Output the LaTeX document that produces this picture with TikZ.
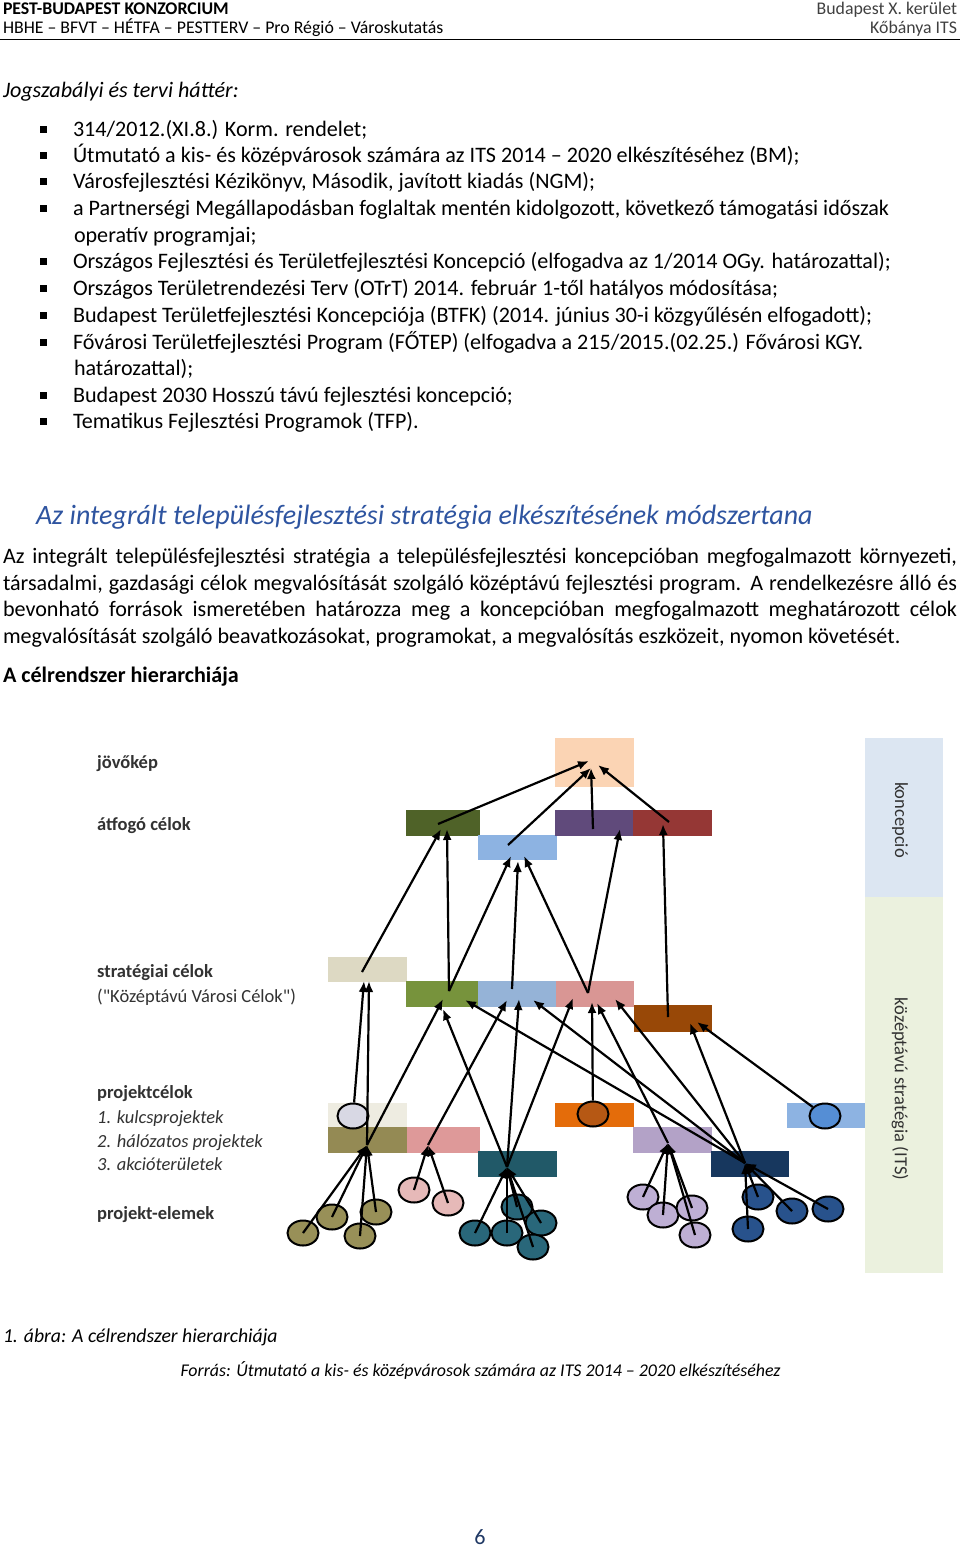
\documentclass[tikz,border=0pt]{standalone}
\usepackage{fontspec}
\setmainfont{Carlito}
\newfontfamily\plainq{Carlito}
\usetikzlibrary{arrows.meta,shapes.geometric}
\definecolor{cJov}{RGB}{251,212,180}
\definecolor{cAgA}{RGB}{79,98,40}
\definecolor{cAgB}{RGB}{141,179,226}
\definecolor{cAgC}{RGB}{96,74,123}
\definecolor{cAgD}{RGB}{149,55,53}
\definecolor{cScA}{RGB}{221,217,195}
\definecolor{cScB}{RGB}{119,147,60}
\definecolor{cScC}{RGB}{149,179,215}
\definecolor{cScD}{RGB}{217,150,148}
\definecolor{cScE}{RGB}{152,72,7}
\definecolor{cPcA}{RGB}{238,236,225}
\definecolor{cPcB}{RGB}{148,138,84}
\definecolor{cPcC}{RGB}{222,153,153}
\definecolor{cPcD}{RGB}{33,89,104}
\definecolor{cPcE}{RGB}{228,108,10}
\definecolor{cPcF}{RGB}{179,162,199}
\definecolor{cPcG}{RGB}{23,55,94}
\definecolor{cPcH}{RGB}{141,179,226}
\definecolor{cBandA}{RGB}{220,230,242}
\definecolor{cBandB}{RGB}{235,241,222}
\definecolor{eGrey}{RGB}{216,216,228}
\definecolor{eOlive}{RGB}{152,144,88}
\definecolor{ePink}{RGB}{230,185,184}
\definecolor{eTeal}{RGB}{41,103,122}
\definecolor{eLav}{RGB}{190,175,212}
\definecolor{eNavy}{RGB}{40,82,140}
\definecolor{eOr}{RGB}{182,88,20}
\definecolor{eLb}{RGB}{85,142,213}
\definecolor{headBlue}{RGB}{46,84,160}
\definecolor{pageBlue}{RGB}{31,56,100}
\definecolor{lblGrey}{RGB}{50,50,50}
\newcommand{\fshdr}{\fontsize{17.8}{21}\selectfont}
\newcommand{\fsbody}{\fontsize{22.1}{26}\selectfont}
\newcommand{\fshead}{\fontsize{28}{33}\selectfont}
\newcommand{\fscap}{\fontsize{19.7}{24}\selectfont}
\newcommand{\fssrc}{\fontsize{17.9}{21}\selectfont}
\newcommand{\fslbl}{\fontsize{18.5}{22}\selectfont}
\begin{document}
\begin{tikzpicture}[x=1pt,y=-1pt,
  txt/.style={anchor=base west,inner sep=0pt,outer sep=0pt},
  txtr/.style={anchor=base east,inner sep=0pt,outer sep=0pt},
  bul/.style={fill=black,inner sep=0pt,minimum size=6.5pt},
  blk/.style={inner sep=0pt,outer sep=0pt,draw=none},
  lbl/.style={anchor=base west,inner sep=0pt,text=lblGrey,font=\fslbl},
  elem/.style={ellipse,draw=black,line width=2pt,minimum width=31pt,minimum height=25pt,inner sep=0pt},
  conn/.style={line width=2.2pt,draw=black,-{Latex[length=11pt,width=9pt]}}]
\useasboundingbox (0,0) rectangle (960,1551);
\fill[white] (0,0) rectangle (960,1551);

% header
\node[txt,font=\fshdr\bfseries] (h1) at (3,14) {PEST-BUDAPEST KONZORCIUM};
\node[txt,font=\fshdr] (h2) at (3,33) {HBHE – BFVT – HÉTFA – PESTTERV – Pro Régió – Városkutatás};
\node[txtr,font=\fshdr,text=black!75] (h3) at (957,14) {Budapest X. kerület};
\node[txtr,font=\fshdr,text=black!75] (h4) at (957,33) {Kőbánya ITS};
\draw[line width=1pt] (0,39.5) -- (960,39.5);

% legal background
\node[txt,font=\fsbody\itshape] (jog) at (3,97) {Jogszabályi és tervi háttér:};
\foreach \y/\n in {136/1,162/2,188/3,215/4,268/5,295/6,322/7,349/8,402/9,428/10}
  \node[bul] (bu\n) at (43.5,\y-6.5) {};
\node[txt,font=\fsbody] (l1) at (73,136) {314/2012.(XI.8.) Korm. rendelet;};
\node[txt,font=\fsbody] (l2) at (73,162) {Útmutató a kis- és középvárosok számára az ITS 2014 – 2020 elkészítéséhez (BM);};
\node[txt,font=\fsbody] (l3) at (73,188) {Városfejlesztési Kézikönyv, Második, javított kiadás (NGM);};
\node[txt,font=\fsbody] (l4) at (73,215) {a Partnerségi Megállapodásban foglaltak mentén kidolgozott, következő támogatási időszak};
\node[txt,font=\fsbody] (l4b) at (74,242) {operatív programjai;};
\node[txt,font=\fsbody] (l5) at (73,268) {Országos Fejlesztési és Területfejlesztési Koncepció (elfogadva az 1/2014 OGy. határozattal);};
\node[txt,font=\fsbody] (l6) at (73,295) {Országos Területrendezési Terv (OTrT) 2014. február 1-től hatályos módosítása;};
\node[txt,font=\fsbody] (l7) at (73,322) {Budapest Területfejlesztési Koncepciója (BTFK) (2014. június 30-i közgyűlésén elfogadott);};
\node[txt,font=\fsbody] (l8) at (73,349) {Fővárosi Területfejlesztési Program (FŐTEP) (elfogadva a 215/2015.(02.25.) Fővárosi KGY.};
\node[txt,font=\fsbody] (l8b) at (74,375) {határozattal);};
\node[txt,font=\fsbody] (l9) at (73,402) {Budapest 2030 Hosszú távú fejlesztési koncepció;};
\node[txt,font=\fsbody] (l10) at (73,428) {Tematikus Fejlesztési Programok (TFP).};

% heading and paragraph
\node[txt,font=\fshead\itshape,text=headBlue] (head) at (36,524) {Az integrált településfejlesztési stratégia elkészítésének módszertana};
\node[txt,font=\fsbody] (p1) at (3,563) {\makebox[954pt][s]{Az integrált településfejlesztési stratégia a településfejlesztési koncepcióban megfogalmazott környezeti,}};
\node[txt,font=\fsbody] (p2) at (3,590) {\makebox[954pt][s]{társadalmi, gazdasági célok megvalósítását szolgáló középtávú fejlesztési program. A rendelkezésre álló és}};
\node[txt,font=\fsbody] (p3) at (3,616) {\makebox[954pt][s]{bevonható források ismeretében határozza meg a koncepcióban megfogalmazott meghatározott célok}};
\node[txt,font=\fsbody] (p4) at (3,643) {megvalósítását szolgáló beavatkozásokat, programokat, a megvalósítás eszközeit, nyomon követését.};
\node[txt,font=\fsbody\bfseries] (sub) at (3,682) {A célrendszer hierarchiája};

% diagram: side bands
\node[blk,fill=cBandA,minimum width=78pt,minimum height=159pt] (bandA) at (904,817.5) {};
\node[blk,fill=cBandB,minimum width=78pt,minimum height=376pt] (bandB) at (904,1085) {};
\node[font=\fslbl,text=lblGrey,rotate=-90,inner sep=0pt] (tbA) at (900,820) {koncepció};
\node[font=\fslbl,text=lblGrey,rotate=-90,inner sep=0pt] (tbB) at (900,1089) {középtávú stratégia (ITS)};

% left labels
\node[lbl,font=\fslbl\bfseries] (lj) at (97,768) {jövőkép};
\node[lbl,font=\fslbl\bfseries] (la) at (97,830) {átfogó célok};
\node[lbl,font=\fslbl\bfseries] (ls) at (97,977) {stratégiai célok};
\node[lbl] (ls2) at (97,1002) {({\plainq"}Középtávú Városi Célok{\plainq"})};
\node[lbl,font=\fslbl\bfseries] (lp) at (97,1098) {projektcélok};
\node[lbl,font=\fslbl\itshape] (lp1) at (97,1123) {1. kulcsprojektek};
\node[lbl,font=\fslbl\itshape] (lp2) at (97,1147) {2. hálózatos projektek};
\node[lbl,font=\fslbl\itshape] (lp3) at (97,1170) {3. akcióterületek};
\node[lbl,font=\fslbl\bfseries] (le) at (97,1219) {projekt-elemek};

% boxes
\node[blk,fill=cJov,minimum width=79pt,minimum height=49pt] (jov) at (594.5,762.5) {};
\node[blk,fill=cAgA,minimum width=74pt,minimum height=26pt] (agA) at (443,823) {};
\node[blk,fill=cAgB,minimum width=79pt,minimum height=25pt] (agB) at (517.5,847.5) {};
\node[blk,fill=cAgC,minimum width=78pt,minimum height=26pt] (agC) at (594,823) {};
\node[blk,fill=cAgD,minimum width=79pt,minimum height=26pt] (agD) at (672.5,823) {};
\node[blk,fill=cScA,minimum width=79pt,minimum height=25pt] (scA) at (367.5,969.5) {};
\node[blk,fill=cScB,minimum width=72pt,minimum height=26pt] (scB) at (442,994) {};
\node[blk,fill=cScC,minimum width=78pt,minimum height=26pt] (scC) at (517,994) {};
\node[blk,fill=cScD,minimum width=78pt,minimum height=26pt] (scD) at (595,994) {};
\node[blk,fill=cScE,minimum width=78pt,minimum height=27pt] (scE) at (673,1018.5) {};
\node[blk,fill=cPcA,minimum width=79pt,minimum height=24pt] (pcA) at (367.5,1115) {};
\node[blk,fill=cPcB,minimum width=79pt,minimum height=26pt] (pcB) at (367.5,1140) {};
\node[blk,fill=cPcC,minimum width=73pt,minimum height=26pt] (pcC) at (443.5,1140) {};
\node[blk,fill=cPcD,minimum width=79pt,minimum height=26pt] (pcD) at (517.5,1164) {};
\node[blk,fill=cPcE,minimum width=79pt,minimum height=24pt] (pcE) at (594.5,1115) {};
\node[blk,fill=cPcF,minimum width=79pt,minimum height=26pt] (pcF) at (672.5,1140) {};
\node[blk,fill=cPcG,minimum width=78pt,minimum height=26pt] (pcG) at (750,1164) {};
\node[blk,fill=cPcH,minimum width=78pt,minimum height=25pt] (pcH) at (826,1115.5) {};

% mid-level ellipses
\node[elem,fill=eGrey] (eG) at (353,1116) {};
\node[elem,fill=eOr] (eO) at (593,1114) {};
\node[elem,fill=eLb] (eB) at (825,1116) {};

% points
\coordinate (jA) at (589,761);
\coordinate (jB) at (591,768);
\coordinate (jC) at (598,765);
\coordinate (agAo) at (438,824);
\coordinate (agBo) at (508,845);
\coordinate (agCo) at (593,829);
\coordinate (agDo) at (669,822);
\coordinate (scAo) at (362,972);
\coordinate (scBo) at (449,991);
\coordinate (scCo) at (512,989);
\coordinate (scDo) at (588,993);
\coordinate (scEo) at (668,1017);
\coordinate (tAa) at (441,829);
\coordinate (tAb) at (447,829);
\coordinate (tBa) at (511,856);
\coordinate (tBb) at (518,861);
\coordinate (tBc) at (524,856);
\coordinate (tC) at (620,829);
\coordinate (tD) at (663,824);
\coordinate (hubO) at (367,1145);
\coordinate (hubP) at (428,1145);
\coordinate (hubT) at (507,1167);
\coordinate (hubL) at (668,1143);
\coordinate (hubN) at (745,1163);
\coordinate (sAa) at (364,981);
\coordinate (sAb) at (369,981);
\coordinate (sBa) at (443,999);
\coordinate (sBb) at (443,1009);
\coordinate (sBc) at (465,1000);
\coordinate (sCa) at (507,1000);
\coordinate (sCb) at (519,999);
\coordinate (sCc) at (533,1000);
\coordinate (sDa) at (573,998);
\coordinate (sDb) at (592,1002);
\coordinate (sDc) at (597,1003);
\coordinate (sDd) at (615,999);
\coordinate (sEa) at (690,1023);
\coordinate (sEb) at (697,1022);

% to jovokep
\draw[conn] (agAo) -- (jA);
\draw[conn] (agBo) -- (jB);
\draw[conn] (agCo) -- (jB);
\draw[conn] (agDo) -- (jC);
% to atfogo celok
\draw[conn] (scAo) -- (tAa);
\draw[conn] (scBo) -- (tAb);
\draw[conn] (scBo) -- (tBa);
\draw[conn] (scCo) -- (tBb);
\draw[conn] (scDo) -- (tBc);
\draw[conn] (scDo) -- (tC);
\draw[conn] (scEo) -- (tD);
% to strategiai celok
\draw[conn] (eG) -- (sAa);
\draw[conn] (hubO) -- (sAb);
\draw[conn] (hubO) -- (sBa);
\draw[conn] (hubT) -- (sBb);
\draw[conn] (hubN) -- (sBc);
\draw[conn] (hubP) -- (sCa);
\draw[conn] (hubT) -- (sCb);
\draw[conn] (hubN) -- (sCc);
\draw[conn] (hubT) -- (sDa);
\draw[conn] (eO) -- (sDb);
\draw[conn] (hubL) -- (sDc);
\draw[conn] (hubN) -- (sDd);
\draw[conn] (hubN) -- (sEa);
\draw[conn] (eB) -- (sEb);

% project elements
\node[elem,fill=eOlive] (oA) at (303,1233) {};
\node[elem,fill=eOlive] (oB) at (332,1217) {};
\node[elem,fill=eOlive] (oC) at (376,1212) {};
\node[elem,fill=eOlive] (oD) at (360,1236) {};
\node[elem,fill=ePink] (pA) at (414,1190) {};
\node[elem,fill=ePink] (pB) at (448,1203) {};
\node[elem,fill=eTeal] (tcA) at (517,1207) {};
\node[elem,fill=eTeal] (tcB) at (541,1223) {};
\node[elem,fill=eTeal] (tcC) at (475,1233) {};
\node[elem,fill=eTeal] (tcD) at (507,1233) {};
\node[elem,fill=eTeal] (tcE) at (533,1247) {};
\node[elem,fill=eLav] (vA) at (643,1197) {};
\node[elem,fill=eLav] (vB) at (663,1215) {};
\node[elem,fill=eLav] (vC) at (692,1208) {};
\node[elem,fill=eLav] (vD) at (695,1235) {};
\node[elem,fill=eNavy] (nA) at (758,1197) {};
\node[elem,fill=eNavy] (nB) at (792,1211) {};
\node[elem,fill=eNavy] (nC) at (828,1209) {};
\node[elem,fill=eNavy] (nD) at (748,1229) {};

\foreach \e in {oA,oB,oC,oD} \draw[conn] (\e.center) -- (hubO);
\foreach \e in {pA,pB} \draw[conn] (\e.center) -- (hubP);
\foreach \e in {tcA,tcB,tcC,tcD,tcE} \draw[conn] (\e.center) -- (hubT);
\foreach \e in {vA,vB,vC,vD} \draw[conn] (\e.center) -- (hubL);
\foreach \e in {nA,nB,nC,nD} \draw[conn] (\e.center) -- (hubN);

% caption
\node[txt,font=\fscap\itshape] (cap) at (3,1342) {1. ábra: A célrendszer hierarchiája};
\node[anchor=base,inner sep=0pt,font=\fssrc\itshape] (src) at (480.5,1376) {Forrás: Útmutató a kis- és középvárosok számára az ITS 2014 – 2020 elkészítéséhez};
\node[anchor=base,inner sep=0pt,font=\fsbody,text=pageBlue] (pg) at (480,1544) {6};
\end{tikzpicture}
\end{document}
